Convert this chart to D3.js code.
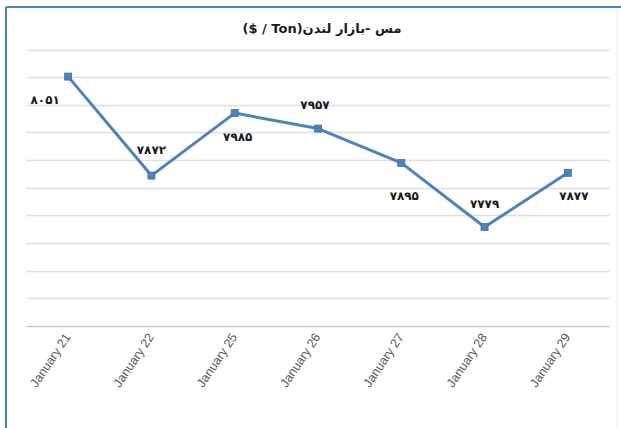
<!DOCTYPE html>
<html>
<head>
<meta charset="utf-8">
<script src="https://cdn.jsdelivr.net/npm/d3@7"></script>
<style>
  body { margin: 0; background: #fff; }
  svg { display: block; }
</style>
</head>
<body>
<div id="chart"></div>
<script>
// copper price, London market
const dates = ["January 21", "January 22", "January 25", "January 26", "January 27", "January 28", "January 29"];
const prices = [8051, 7872, 7985, 7957, 7895, 7779, 7877];
const yTicks = [7600, 7650, 7700, 7750, 7800, 7850, 7900, 7950, 8000, 8050, 8100];
const titleText = "مس -بازار لندن\u2066($ / Ton)\u2069";
// where each data label sits relative to its point
const labelShift = [[-23, 24], [0, -25], [3, 24], [-3, -23], [3, 34], [0, -23], [6, 24]];

const width = 621, height = 428;
const plot = {left: 26.5, right: 609.5, top: 49.5, bottom: 326};

const svg = d3.select("#chart")
    .append("svg")
    .attr("width", width)
    .attr("height", height);

// frame
svg.append("line")
    .attr("x1", 6).attr("x2", width).attr("y1", 7).attr("y2", 7)
    .attr("stroke", "#4f81bd").attr("stroke-width", 2);
svg.append("line")
    .attr("x1", 6).attr("x2", 6).attr("y1", 7).attr("y2", height)
    .attr("stroke", "#4f81bd").attr("stroke-width", 2);
svg.append("line")
    .attr("x1", 617).attr("x2", 617).attr("y1", 8).attr("y2", height)
    .attr("stroke", "#ececec").attr("stroke-width", 1);

let x = d3.scaleBand()
    .domain(dates)
    .range([plot.left, plot.right]);

let y = d3.scaleLinear()
    .domain([7600, 8100])
    .range([plot.bottom, plot.top]);

// gridlines
svg.append("g")
    .selectAll("line")
    .data(yTicks)
    .enter()
    .append("line")
    .attr("x1", plot.left)
    .attr("x2", plot.right)
    .attr("y1", d => Math.round(y(d)) + 0.5)
    .attr("y2", d => Math.round(y(d)) + 0.5)
    .attr("stroke", d => d == 7600 ? "#c8c8c8" : "#e0e0e0")
    .attr("stroke-width", 1.5);

// x axis labels
let xAxis = svg.append("g")
    .attr("transform", `translate(0, ${plot.bottom})`)
    .call(d3.axisBottom(x).tickSize(0).tickPadding(0));
xAxis.select(".domain").remove();
xAxis.selectAll("text")
    .attr("font-family", "Liberation Sans, Arial, sans-serif")
    .attr("font-size", 12.5)
    .attr("fill", "#595959")
    .attr("dy", 0)
    .attr("text-anchor", "end")
    .attr("transform", "translate(3, 11) rotate(-56)");

const data = dates.map((d, i) => ({date: d, price: prices[i]}));
const cx = d => x(d.date) + x.bandwidth() / 2;

svg.append("path")
    .datum(data)
    .attr("fill", "none")
    .attr("stroke", "#4f81bd")
    .attr("stroke-width", 3)
    .attr("stroke-linejoin", "round")
    .attr("d", d3.line().x(cx).y(d => y(d.price)));

svg.append("g")
    .selectAll("rect")
    .data(data)
    .enter()
    .append("rect")
    .attr("x", d => cx(d) - 3.5)
    .attr("y", d => y(d.price) - 3.5)
    .attr("width", 7)
    .attr("height", 7)
    .attr("fill", "#4f81bd")
    .attr("stroke", "#3d6fa8")
    .attr("stroke-width", 0.8);

const persian = n => String(n).replace(/[0-9]/g, c => "۰۱۲۳۴۵۶۷۸۹"[+c]);

svg.append("g")
    .selectAll("text")
    .data(data)
    .enter()
    .append("text")
    .attr("x", (d, i) => cx(d) + labelShift[i][0])
    .attr("y", (d, i) => y(d.price) + labelShift[i][1])
    .attr("text-anchor", "middle")
    .attr("dominant-baseline", "middle")
    .attr("font-family", "DejaVu Sans, sans-serif")
    .attr("font-weight", "bold")
    .attr("font-size", 12)
    .attr("fill", "#1a1a1a")
    .text(d => persian(d.price));

// title
svg.append("text")
    .attr("x", 322)
    .attr("y", 33)
    .attr("text-anchor", "middle")
    .attr("direction", "rtl")
    .attr("font-family", "DejaVu Sans, sans-serif")
    .attr("font-weight", "bold")
    .attr("font-size", 13)
    .attr("fill", "#1a1a1a")
    .text(titleText);
</script>
</body>
</html>
